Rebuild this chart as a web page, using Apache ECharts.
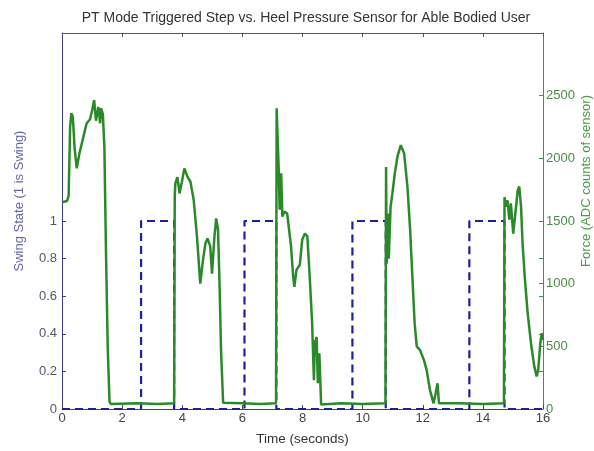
<!DOCTYPE html>
<html>
<head>
<meta charset="utf-8">
<script src="https://cdn.jsdelivr.net/npm/echarts@6/dist/echarts.min.js"></script>
<style>
  html, body { margin: 0; padding: 0; background: #fff; }
  #chart { width: 594px; height: 451px; }
</style>
</head>
<body>
<div id="chart"></div>
<script>
// swing state (step signal, left axis)
var swingTime  = [0, 2.63, 2.63, 3.73, 3.73, 6.07, 6.07, 7.13, 7.13, 9.66, 9.66, 10.77, 10.77, 13.55, 13.55, 14.72, 14.72, 16];
var swingState = [0, 0,    1,    1,    0,    0,    1,    1,    0,    0,    1,    1,     0,     0,     1,     1,     0,     0];

// heel pressure sensor force (right axis)
var forceTime = [
  0, 0.17, 0.22, 0.27, 0.31, 0.36, 0.42, 0.49, 0.58, 0.7, 0.82, 0.93, 1.0, 1.07, 1.13, 1.21, 1.27, 1.3, 1.36, 1.41, 1.46, 1.52, 1.58, 1.62,
  2.5, 3.2, 3.73,
  3.75, 3.77, 3.84, 3.91, 3.99, 4.07, 4.18, 4.27, 4.38, 4.49, 4.6, 4.69, 4.77, 4.84, 4.93, 4.99, 5.07, 5.13, 5.19, 5.24, 5.29, 5.36,
  6.0, 6.6, 7.12,
  7.14, 7.17, 7.21, 7.24, 7.29, 7.33, 7.4, 7.49, 7.54, 7.62, 7.69, 7.73, 7.8, 7.91, 7.99, 8.08, 8.16, 8.24, 8.32, 8.38, 8.41, 8.47, 8.51, 8.56, 8.62,
  9.3, 10.0, 10.76,
  10.78, 10.8, 10.84, 10.87, 10.93, 10.99, 11.07, 11.16, 11.27, 11.38, 11.49, 11.58, 11.66, 11.73, 11.8, 11.91, 12.04, 12.13, 12.24, 12.36, 12.43, 12.49, 12.54,
  13.2, 14.0, 14.7,
  14.72, 14.77, 14.82, 14.88, 14.93, 15.01, 15.08, 15.16, 15.21, 15.27, 15.32, 15.4, 15.49, 15.6, 15.71, 15.79, 15.84, 15.91, 15.96, 16.0
];
var forceValue = [
  1650, 1660, 1700, 2250, 2360, 2330, 2080, 1920, 2040, 2160, 2280, 2310, 2380, 2465, 2300, 2410, 2280, 2400, 2350, 2090, 1300, 500, 60, 40,
  45, 40, 45,
  1700, 1800, 1850, 1720, 1815, 1920, 1850, 1815, 1670, 1375, 1000, 1190, 1320, 1360, 1300, 1080, 1375, 1520, 1430, 1000, 470, 50,
  45, 40, 45,
  2400, 2390, 1900, 1590, 1880, 1535, 1575, 1560, 1570, 1295, 1055, 975, 1110, 1150, 1350, 1400, 1380, 1055, 685, 230, 525, 575, 205, 445, 35,
  45, 40, 45,
  1930, 1160, 1560, 1200, 1615, 1720, 1880, 2015, 2105, 2040, 1775, 1430, 1030, 685, 500, 470, 390, 310, 150, 45, 125, 205, 45,
  45, 40, 45,
  1690, 1615, 1665, 1510, 1640, 1400, 1560, 1745, 1775, 1615, 1320, 1030, 765, 525, 340, 260, 310, 525, 605, 550
];

// tick labels
var swingTicks = [0, 0.2, 0.4, 0.6, 0.8, 1];
var forceTicks = [0, 500, 1000, 1500, 2000, 2500];

function zip(a, b) {
  var out = [];
  for (var i = 0; i < a.length; i++) out.push([a[i], b[i]]);
  return out;
}

var chart = echarts.init(document.getElementById('chart'));
var font = 'Liberation Sans, Arial, sans-serif';

chart.setOption({
  animation: false,
  textStyle: { fontFamily: font },
  title: {
    text: 'PT Mode Triggered Step vs. Heel Pressure Sensor for Able Bodied User',
    left: 301, top: 6, textAlign: 'center',
    textStyle: { fontFamily: font, fontSize: 14, fontWeight: 'normal', color: '#333' }
  },
  grid: { left: 62, right: 51, top: 33, bottom: 42, outerBoundsMode: 'none', containLabel: false },
  xAxis: [
    {
      type: 'value', min: 0, max: 16, interval: 2,
      name: 'Time (seconds)', nameLocation: 'middle', nameGap: 23,
      nameTextStyle: { fontFamily: font, fontSize: 13.5, color: '#333' },
      axisLine: { onZero: false, lineStyle: { color: '#444', width: 1 } },
      axisTick: { inside: true, length: 4, lineStyle: { color: '#444' } },
      axisLabel: { fontFamily: font, fontSize: 13, color: '#444', margin: 3 },
      splitLine: { show: false }
    },
    {
      type: 'value', min: 0, max: 16, interval: 2, position: 'top',
      axisLine: { show: true, onZero: false, lineStyle: { color: '#555', width: 1 } },
      axisTick: { inside: true, length: 4, lineStyle: { color: '#555' } },
      axisLabel: { show: false },
      splitLine: { show: false }
    }
  ],
  yAxis: [
    {
      type: 'value', min: 0, max: 2, position: 'left',
      name: 'Swing State (1 is Swing)', nameLocation: 'middle', nameGap: 36, nameRotate: 90,
      nameMoveOverlap: false,
      nameTextStyle: { fontFamily: font, fontSize: 13, color: '#6666a8', padding: [0, 0, 0, 40] },
      axisLine: { show: true, onZero: false, lineStyle: { color: '#3a3a88', width: 1 } },
      axisTick: { inside: true, length: 4, customValues: swingTicks, lineStyle: { color: '#3a3a88' } },
      axisLabel: { fontFamily: font, fontSize: 13, color: '#55556a', margin: 5, customValues: swingTicks },
      splitLine: { show: false }
    },
    {
      type: 'value', min: 0, max: 3000, position: 'right',
      name: 'Force (ADC counts of sensor)', nameLocation: 'middle', nameGap: 37, nameRotate: 90,
      nameMoveOverlap: false,
      nameTextStyle: { fontFamily: font, fontSize: 13, color: '#4a9a4a', padding: [0, 0, 0, 80] },
      axisLine: { show: true, onZero: false, lineStyle: { color: '#4a8a4a', width: 1 } },
      axisTick: { inside: true, length: 4, customValues: [0, 300, 500, 600, 900, 1000, 1200, 1500, 2000, 2500], lineStyle: { color: '#4a8a4a' } },
      axisLabel: {
        fontFamily: font, fontSize: 13, color: '#4a8a4a', margin: 3, customValues: forceTicks,
        formatter: function (v) { return String(v); }
      },
      splitLine: { show: false }
    }
  ],
  series: [
    {
      type: 'line', xAxisIndex: 0, yAxisIndex: 0,
      data: zip(swingTime, swingState),
      showSymbol: false,
      lineStyle: { color: '#1f1f9e', width: 2.2, type: [8, 5] }
    },
    {
      type: 'line', xAxisIndex: 0, yAxisIndex: 1,
      data: zip(forceTime, forceValue),
      showSymbol: false,
      lineStyle: { color: '#2a8a2a', width: 2.5 }
    }
  ]
});
</script>
</body>
</html>
